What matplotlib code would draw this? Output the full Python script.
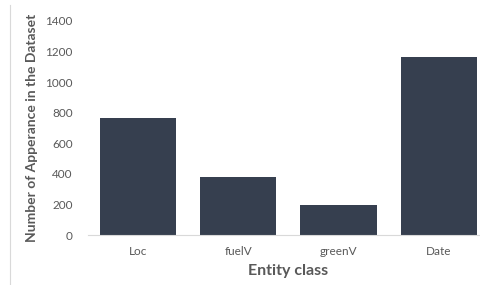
import matplotlib
matplotlib.use('Agg')
from matplotlib import pyplot as plt
from matplotlib.lines import Line2D

plt.rcParams['font.family'] = ['Lato', 'DejaVu Sans']

categories = ['Loc', 'fuelV', 'greenV', 'Date']
counts = [765, 377, 198, 1162]
yticks = [0, 200, 400, 600, 800, 1000, 1200, 1400]

bar_color = '#363f4f'
text_color = '#595959'

fig = plt.figure(figsize=(4.8, 2.85), dpi=100)
ax = fig.add_axes([0.1833, 0.1754, 0.835, 0.751])

ax.bar(range(len(categories)), counts, width=0.76, color=bar_color)
ax.set_xlim(-0.5, len(categories) - 0.5)
ax.set_ylim(0, 1400)
ax.set_yticks(yticks)
ax.set_xticks(range(len(categories)))
ax.set_xticklabels(categories)

for s in ['top', 'right', 'left']:
    ax.spines[s].set_visible(False)
ax.spines['bottom'].set_color('#d9d9d9')
ax.tick_params(axis='both', length=0, colors=text_color, labelsize=8.5)
ax.tick_params(axis='x', pad=8)
ax.tick_params(axis='y', pad=11)

ax.set_ylabel('Number of Apperance in the Dataset', fontweight='bold',
              color=text_color, fontsize=10)
ax.set_xlabel('Entity class', fontweight='bold', color=text_color, fontsize=11.5)
ax.yaxis.set_label_coords(-0.125, 0.5)
ax.xaxis.set_label_coords(0.5, -0.135)

# chart frame edge on the left
fig.add_artist(Line2D([10/480, 10/480], [0, 280/285], transform=fig.transFigure,
                      color='#d9d9d9', linewidth=0.8))

plt.savefig('out.png', dpi=100)
